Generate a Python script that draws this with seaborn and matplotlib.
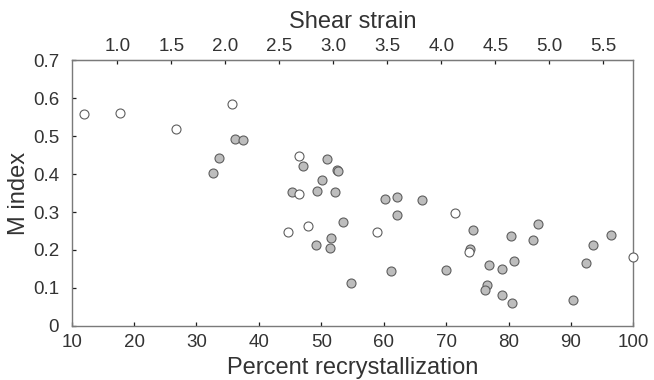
import matplotlib
matplotlib.use("Agg")
import matplotlib.pyplot as plt
import seaborn as sns
import pandas as pd
import numpy as np

# Data
open_pct = [11.9, 17.8, 26.7, 35.7, 46.5, 46.5, 47.8, 44.7, 58.9, 71.5, 73.7, 100.0]
open_m   = [0.559, 0.562, 0.518, 0.586, 0.448, 0.348, 0.263, 0.247, 0.246, 0.297, 0.195, 0.182]

filled_pct = [36.1, 37.4, 33.6, 32.6, 47.1, 50.9, 52.5, 52.6, 50.1, 45.3, 49.3, 52.2,
              60.2, 62.2, 66.1, 62.2, 53.4, 51.5, 49.2, 51.4, 61.1, 70.0, 54.8,
              74.3, 73.9, 76.9, 79.0, 80.4, 80.9, 83.9, 84.7, 76.5, 76.3, 79.0,
              80.6, 90.3, 92.4, 93.5, 96.5]
filled_m   = [0.493, 0.491, 0.442, 0.403, 0.422, 0.439, 0.410, 0.409, 0.384, 0.354, 0.355, 0.352,
              0.334, 0.339, 0.333, 0.292, 0.274, 0.232, 0.213, 0.205, 0.145, 0.146, 0.113,
              0.252, 0.202, 0.161, 0.150, 0.237, 0.172, 0.225, 0.268, 0.108, 0.095, 0.080,
              0.059, 0.069, 0.165, 0.214, 0.240]

x_ticks = [10, 20, 30, 40, 50, 60, 70, 80, 90, 100]
y_ticks = [0, 0.1, 0.2, 0.3, 0.4, 0.5, 0.6, 0.7]
y_tick_labels = ["0", "0.1", "0.2", "0.3", "0.4", "0.5", "0.6", "0.7"]
strain_ticks = [1.0, 1.5, 2.0, 2.5, 3.0, 3.5, 4.0, 4.5, 5.0, 5.5]
strain_factor = 17.31  # percent per unit shear strain

sns.set_style("ticks", rc={"xtick.direction": "in", "ytick.direction": "in"})
plt.rcParams['font.family'] = ['Liberation Sans', 'DejaVu Sans']

text_color = "#333333"
spine_color = "#7a7a7a"
tick_color = "#1e1e1e"

fig = plt.figure(figsize=(6.54, 3.8), dpi=100)
ax = fig.add_axes([0.1096, 0.1429, 0.9684 - 0.1096, 0.841 - 0.1429])

df_open = pd.DataFrame({"pct": open_pct, "m": open_m})
df_filled = pd.DataFrame({"pct": filled_pct, "m": filled_m})

sns.scatterplot(data=df_filled, x="pct", y="m", ax=ax, s=42, color="#bdbdbd",
                edgecolor="#5e5e5e", linewidth=0.8, zorder=3, clip_on=False)
sns.scatterplot(data=df_open, x="pct", y="m", ax=ax, s=42, color="white",
                edgecolor="#5e5e5e", linewidth=0.8, zorder=4, clip_on=False)

ax.set_xlim(10, 100)
ax.set_ylim(0, 0.7)
ax.set_xticks(x_ticks)
ax.set_yticks(y_ticks)
ax.set_yticklabels(y_tick_labels)

for s in ax.spines.values():
    s.set_visible(True)
    s.set_color(spine_color)
    s.set_linewidth(1.0)

ax.tick_params(axis="both", which="major", direction="in", length=3.2, width=0.9,
               color=tick_color, labelsize=13.5, labelcolor=text_color,
               left=True, bottom=True, right=False, top=False)
ax.tick_params(axis="y", pad=9)
ax.tick_params(axis="x", pad=6)

ax.set_xlabel("Percent recrystallization", fontsize=17, color=text_color, labelpad=4)
ax.set_ylabel("M index", fontsize=17, color=text_color, labelpad=2)

sec = ax.secondary_xaxis("top", functions=(lambda x: x / strain_factor,
                                           lambda s: s * strain_factor))
sec.set_xticks(strain_ticks)
sec.set_xticklabels([f"{v:.1f}" for v in strain_ticks])
sec.tick_params(axis="x", which="major", direction="in", length=3.2, width=0.9,
                color=tick_color, labelsize=13.5, labelcolor=text_color, pad=4)
sec.tick_params(axis="x", which="minor", length=0)
sec.spines["top"].set_color(spine_color)
sec.set_xlabel("Shear strain", fontsize=17, color=text_color, labelpad=7)

fig.savefig("out.png", dpi=100)
